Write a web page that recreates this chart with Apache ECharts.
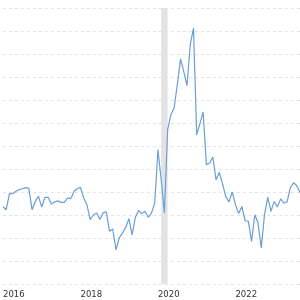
<!DOCTYPE html>
<html>
<head>
<meta charset="utf-8">
<script src="https://cdn.jsdelivr.net/npm/echarts@6/dist/echarts.min.js"></script>
<style>
  html, body { margin: 0; padding: 0; background: #fff; }
  #chart { width: 300px; height: 300px; }
</style>
</head>
<body>
<div id="chart"></div>
<script>
// monthly values, Jan 2016 .. Sep 2023
var values = [
  3.36, 3.23, 3.93, 3.93, 4.03, 4.10, 4.14, 4.19, 4.16, 3.23, 3.59, 3.81,
  3.35, 3.77, 3.77, 3.48, 3.57, 3.62, 3.55, 3.55, 3.74, 3.71, 4.03, 4.14,
  4.20, 3.74, 3.45, 2.80, 3.01, 3.09, 2.80, 3.09, 3.14, 2.29, 2.39, 1.49,
  2.00, 2.22, 2.46, 2.84, 2.14, 2.90, 3.20, 3.06, 3.16, 2.90, 3.09, 3.52,
  5.84, 4.53, 3.09, 6.71, 7.36, 7.65, 8.67, 9.78, 9.23, 8.63, 10.40, 11.13,
  6.49, 6.97, 7.48, 5.19, 5.26, 5.52, 4.53, 4.85, 4.36, 3.80, 3.57, 4.00,
  3.45, 3.06, 3.37, 2.75, 2.72, 1.85, 3.01, 2.65, 1.57, 3.01, 3.78, 3.16,
  3.59, 3.35, 3.70, 3.52, 3.57, 4.19, 4.40, 4.27, 3.97
];
var startYear = 2016;
var months = [];
for (var i = 0; i < values.length; i++) {
  var y = startYear + Math.floor(i / 12);
  var m = (i % 12) + 1;
  months.push(y + '-' + (m < 10 ? '0' + m : m));
}
// recession band
var recession = ['2020-02', '2020-04'];

var chart = echarts.init(document.getElementById('chart'));
chart.setOption({
  animation: false,
  backgroundColor: '#ffffff',
  grid: { left: 0, right: 0, top: 8, bottom: 16 },
  xAxis: {
    type: 'category',
    data: months,
    boundaryGap: false,
    axisLine: { show: false },
    axisTick: { show: false },
    axisLabel: {
      // only January of even years, left-aligned on the tick
      interval: function (idx, val) {
        return val.slice(5) === '01' && (parseInt(val.slice(0, 4)) % 2 === 0);
      },
      formatter: function (val) { return val.slice(0, 4); },
      align: 'left',
      margin: 6,
      color: '#333',
      fontSize: 8.5,
      fontFamily: 'DejaVu Sans'
    },
    splitLine: { show: false }
  },
  yAxis: {
    type: 'value',
    min: 0,
    max: 12,
    interval: 1,
    axisLine: { show: false },
    axisTick: { show: false },
    axisLabel: { show: false },
    splitLine: { lineStyle: { color: '#e2e2e2', type: [3, 3], width: 1 } }
  },
  series: [{
    type: 'line',
    data: values,
    showSymbol: false,
    lineStyle: { color: '#68a0d4', width: 1.2 },
    markArea: {
      silent: true,
      itemStyle: { color: '#e3e3e3' },
      data: [[{ xAxis: recession[0] }, { xAxis: recession[1] }]]
    }
  }]
});
</script>
</body>
</html>
